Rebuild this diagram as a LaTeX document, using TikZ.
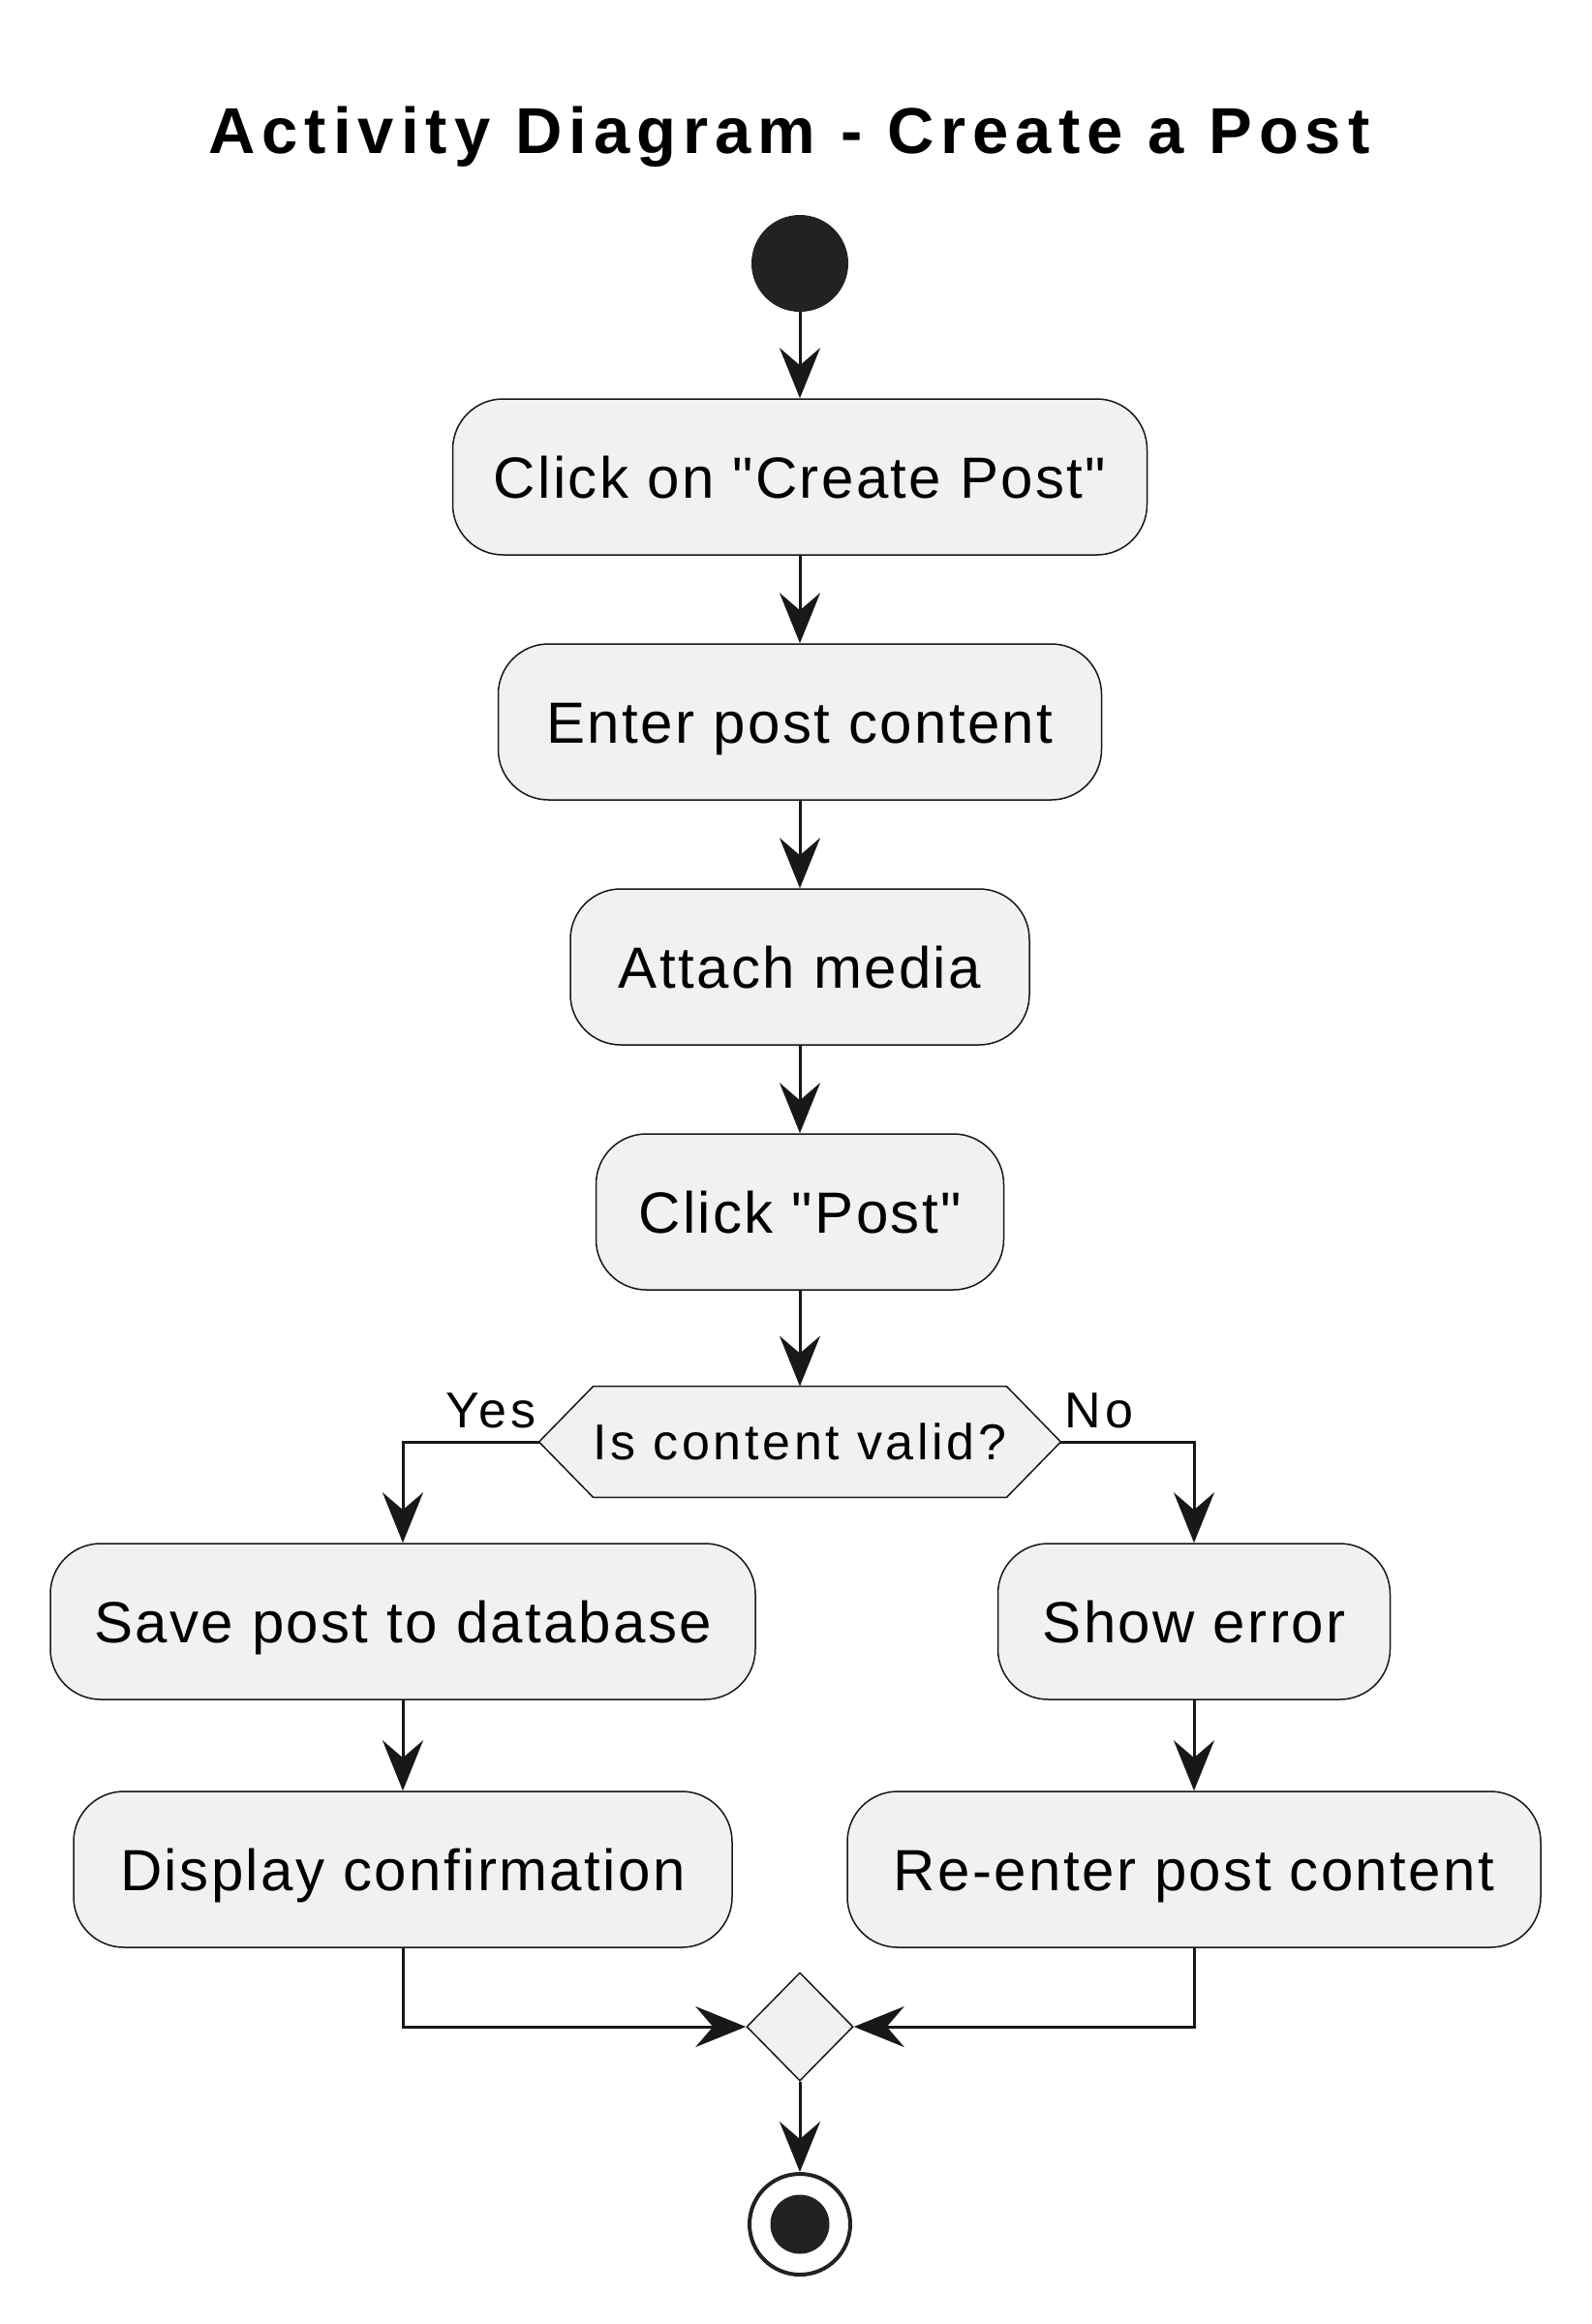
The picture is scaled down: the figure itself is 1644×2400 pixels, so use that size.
\documentclass[tikz,border=0pt]{standalone}
\usepackage{fontspec}
\setmainfont{Liberation Sans}
\newfontfamily\boxfont[LetterSpace=4]{Liberation Sans}
\newfontfamily\decfont[LetterSpace=7]{Liberation Sans}
\newfontfamily\titlefont[LetterSpace=10.5]{Liberation Sans}
\usetikzlibrary{arrows.meta,shapes.geometric,backgrounds}
\definecolor{actfill}{HTML}{F1F1F1}
\definecolor{actline}{HTML}{181818}
\definecolor{dotfill}{HTML}{222222}

\begin{document}
\begin{tikzpicture}[x=0.5pt, y=-0.5pt,
    act/.style={shape=rectangle, rounded corners=26pt, draw=actline, fill=actfill, line width=0.75pt,
        minimum height=80.5pt, inner sep=0pt, text height=21.5pt, text depth=0pt,
        font=\boxfont\fontsize{30pt}{36pt}\selectfont},
    flow/.style={-{Stealth[length=26pt, width=21pt, inset=9pt]}, draw=actline, line width=1.5pt},
    lbl/.style={inner sep=0pt, font=\decfont\fontsize{26pt}{31pt}\selectfont}]
    \useasboundingbox (0,0) rectangle (1644,2400);

    \node[font=\titlefont\bfseries\fontsize{33.5pt}{40pt}\selectfont, anchor=base, inner sep=0pt] at (815,158) (title) {Activity Diagram - Create a Post};

    \node[shape=circle, fill=dotfill, minimum size=50pt, inner sep=0pt] at (826,272) (start) {};
    \node[act, minimum width=358.5pt] at (826,492.5) (click) {Click on "Create Post"};
    \node[act, minimum width=311.5pt] at (826,745.5) (enter) {Enter post content};
    \node[act, minimum width=237pt] at (826,998.5) (media) {Attach media};
    \node[act, minimum width=210.5pt] at (826,1251.5) (clickpost) {Click "Post"};

    \node[lbl, minimum width=269pt, minimum height=57pt, text height=18.6pt, text depth=0pt] at (826,1489) (valid) {Is content valid?};
    \begin{scope}[on background layer]
    \draw[fill=actfill, draw=actline, line width=0.75pt] (valid.west) -- ([xshift=28pt]valid.north west) -- ([xshift=-28pt]valid.north east) -- (valid.east) -- ([xshift=-28pt]valid.south east) -- ([xshift=28pt]valid.south west) -- cycle;
    \end{scope}

    \node[act, minimum width=364pt] at (416,1674.5) (save) {Save post to database};
    \node[act, minimum width=340pt] at (416,1930.5) (confirm) {Display confirmation};
    \node[act, minimum width=202.5pt] at (1233,1674.5) (showerr) {Show error};
    \node[act, minimum width=358pt] at (1233,1930.5) (reenter) {Re-enter post content};

    \node[shape=diamond, draw=actline, fill=actfill, line width=0.75pt, minimum width=55pt, minimum height=56pt, inner sep=0pt] at (826,2093) (merge) {};
    \node[shape=circle, draw=dotfill, line width=2pt, minimum size=52pt, inner sep=0pt] at (826,2297) (stop) {};
    \node[shape=circle, fill=dotfill, minimum size=30.5pt, inner sep=0pt] at (826,2297) (stopdot) {};

    \draw[flow] (start) -- (click);
    \draw[flow] (click) -- (enter);
    \draw[flow] (enter) -- (media);
    \draw[flow] (media) -- (clickpost);
    \draw[flow] (clickpost) -- (valid);
    \draw[flow] (valid.west) -| node[lbl, pos=0, anchor=south east, xshift=-1pt, yshift=6.5pt] {Yes} (save.north);
    \draw[flow] (valid.east) -| node[lbl, pos=0, anchor=south west, xshift=1.5pt, yshift=6.5pt] {No} (showerr.north);
    \draw[flow] (save) -- (confirm);
    \draw[flow] (showerr) -- (reenter);
    \draw[flow] (confirm.south) |- (merge.west);
    \draw[flow] (reenter.south) |- (merge.east);
    \draw[flow] (merge) -- (stop);
\end{tikzpicture}
\end{document}
